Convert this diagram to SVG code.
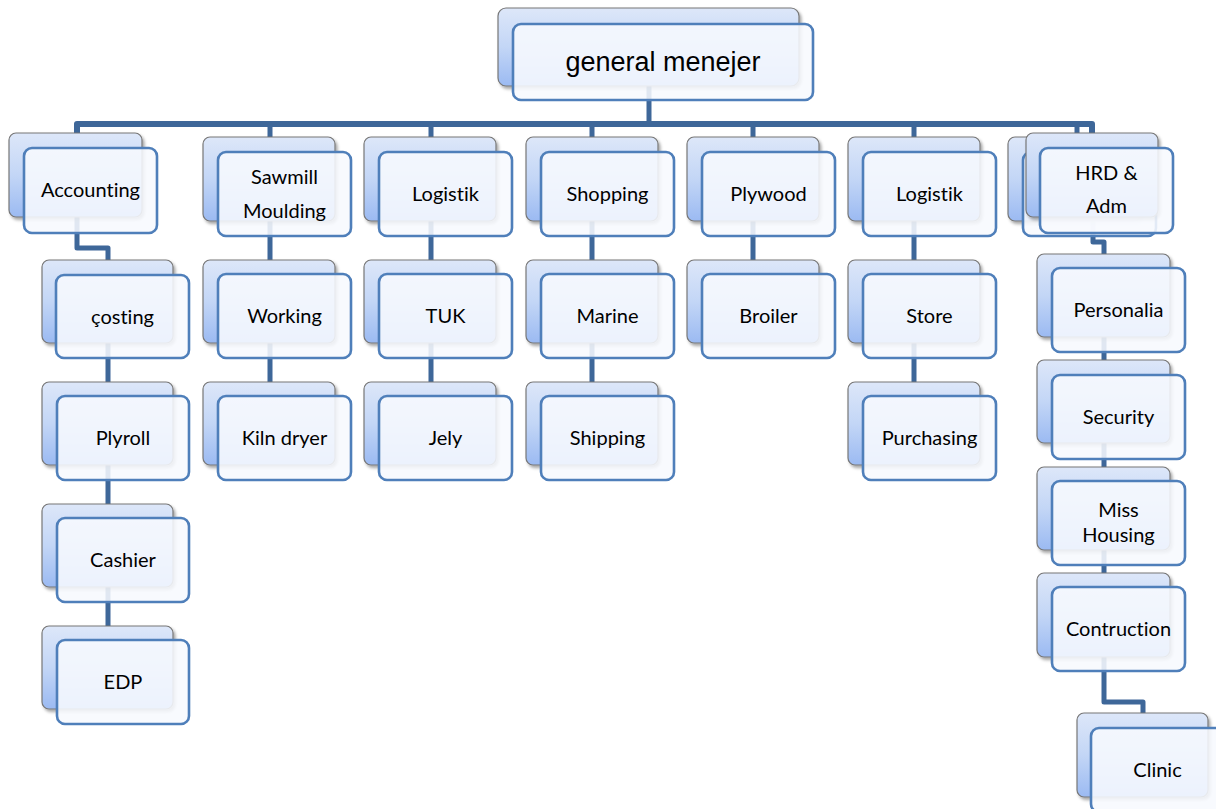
<svg xmlns="http://www.w3.org/2000/svg" width="1216" height="809" viewBox="0 0 1216 809">
<style>
.bk{fill:url(#bg);stroke:#777;stroke-width:1.2;filter:url(#sh)}
.fr{fill:#f7f9fe;fill-opacity:0.88;stroke:#4f7fba;stroke-width:2.6}
.t{font-family:Lato,"Open Sans",sans-serif;font-size:20px;fill:#000;text-anchor:middle;font-variant-ligatures:none}
.big{font-family:"Liberation Sans",Arial,sans-serif;font-size:27px;fill:#000;text-anchor:middle}
.cn{fill:none;stroke:#3e6799;stroke-width:5;stroke-linejoin:round}
</style>
<defs>
<linearGradient id="bg" x1="0" y1="0" x2="0" y2="1">
<stop offset="0" stop-color="#dde7f9"/>
<stop offset="0.5" stop-color="#c3d6f6"/>
<stop offset="1" stop-color="#9bbaf2"/>
</linearGradient>
<filter id="sh" x="-10%" y="-10%" width="125%" height="130%">
<feDropShadow dx="2" dy="2.5" stdDeviation="1.5" flood-color="#000" flood-opacity="0.35"/>
</filter>
</defs>
<rect width="1216" height="809" fill="#fff"/>
<g id="connectors">
<path class="cn" d="M649,86 V124"/>
<path class="cn" style="stroke-width:6" d="M77,136 V124 H1092 V136"/>
<path class="cn" d="M1077,124 V140"/>
<path class="cn" d="M270,124 V382"/>
<path class="cn" d="M431,124 V382"/>
<path class="cn" d="M592,124 V382"/>
<path class="cn" d="M753,124 V260"/>
<path class="cn" d="M914,124 V382"/>
<path class="cn" d="M77,217 V248 H108 V626"/>
<path class="cn" d="M1093,217 V242 H1104 V573"/>
<path class="cn" d="M1104,657 V702 H1143 V713"/>
</g>
<g id="n-gm"><rect class="bk" x="498" y="8" width="301" height="78" rx="8"/><rect class="fr" x="513" y="24" width="300" height="76" rx="8"/><text class="big" x="663" y="71">general menejer</text></g>
<g id="n-accounting"><rect class="bk" x="9" y="133" width="133" height="84" rx="7"/><rect class="fr" x="24" y="148" width="133" height="85" rx="8"/><text class="t" x="90.5" y="197">Accounting</text></g>
<g id="n-sawmill"><rect class="bk" x="203" y="137" width="132" height="84" rx="7"/><rect class="fr" x="218" y="152" width="133" height="84" rx="8"/><text class="t" x="284.5" y="184">Sawmill</text><text class="t" x="284.5" y="218">Moulding</text></g>
<g id="n-logistik1"><rect class="bk" x="364" y="137" width="132" height="84" rx="7"/><rect class="fr" x="379" y="152" width="133" height="84" rx="8"/><text class="t" x="445.5" y="201">Logistik</text></g>
<g id="n-shopping"><rect class="bk" x="526" y="137" width="132" height="84" rx="7"/><rect class="fr" x="541" y="152" width="133" height="84" rx="8"/><text class="t" x="607.5" y="201">Shopping</text></g>
<g id="n-plywood"><rect class="bk" x="687" y="137" width="132" height="84" rx="7"/><rect class="fr" x="702" y="152" width="133" height="84" rx="8"/><text class="t" x="768.5" y="201">Plywood</text></g>
<g id="n-logistik2"><rect class="bk" x="848" y="137" width="132" height="84" rx="7"/><rect class="fr" x="863" y="152" width="133" height="84" rx="8"/><text class="t" x="929.5" y="201">Logistik</text></g>
<g id="n-hidden"><rect class="bk" x="1008" y="137" width="133" height="84" rx="7"/><rect class="fr" x="1023" y="152" width="133" height="84" rx="8"/></g>
<g id="n-hrd"><rect class="bk" x="1026" y="133" width="132" height="84" rx="7"/><rect class="fr" x="1040" y="148" width="133" height="85" rx="8"/><text class="t" x="1106.5" y="180">HRD &amp;</text><text class="t" x="1106.5" y="213">Adm</text></g>
<g id="n-costing"><rect class="bk" x="42" y="260" width="131" height="83" rx="7"/><rect class="fr" x="56" y="275" width="133" height="83" rx="8"/><text class="t" x="122.5" y="324">çosting</text></g>
<g id="n-plyroll"><rect class="bk" x="42" y="382" width="131" height="83" rx="7"/><rect class="fr" x="57" y="396" width="132" height="84" rx="8"/><text class="t" x="123" y="445">Plyroll</text></g>
<g id="n-cashier"><rect class="bk" x="42" y="504" width="131" height="83" rx="7"/><rect class="fr" x="57" y="518" width="132" height="84" rx="8"/><text class="t" x="123" y="567">Cashier</text></g>
<g id="n-edp"><rect class="bk" x="42" y="626" width="131" height="83" rx="7"/><rect class="fr" x="57" y="640" width="132" height="84" rx="8"/><text class="t" x="123" y="689">EDP</text></g>
<g id="n-working"><rect class="bk" x="203" y="260" width="132" height="83" rx="7"/><rect class="fr" x="218" y="274" width="133" height="84" rx="8"/><text class="t" x="284.5" y="323">Working</text></g>
<g id="n-kiln"><rect class="bk" x="203" y="382" width="132" height="83" rx="7"/><rect class="fr" x="218" y="396" width="133" height="84" rx="8"/><text class="t" x="284.5" y="445">Kiln dryer</text></g>
<g id="n-tuk"><rect class="bk" x="364" y="260" width="132" height="83" rx="7"/><rect class="fr" x="379" y="274" width="133" height="84" rx="8"/><text class="t" x="445.5" y="323">TUK</text></g>
<g id="n-jely"><rect class="bk" x="364" y="382" width="132" height="83" rx="7"/><rect class="fr" x="379" y="396" width="133" height="84" rx="8"/><text class="t" x="445.5" y="445">Jely</text></g>
<g id="n-marine"><rect class="bk" x="526" y="260" width="132" height="83" rx="7"/><rect class="fr" x="541" y="274" width="133" height="84" rx="8"/><text class="t" x="607.5" y="323">Marine</text></g>
<g id="n-shipping"><rect class="bk" x="526" y="382" width="132" height="83" rx="7"/><rect class="fr" x="541" y="396" width="133" height="84" rx="8"/><text class="t" x="607.5" y="445">Shipping</text></g>
<g id="n-broiler"><rect class="bk" x="687" y="260" width="132" height="83" rx="7"/><rect class="fr" x="702" y="274" width="133" height="84" rx="8"/><text class="t" x="768.5" y="323">Broiler</text></g>
<g id="n-store"><rect class="bk" x="848" y="260" width="132" height="83" rx="7"/><rect class="fr" x="863" y="274" width="133" height="84" rx="8"/><text class="t" x="929.5" y="323">Store</text></g>
<g id="n-purchasing"><rect class="bk" x="848" y="382" width="132" height="83" rx="7"/><rect class="fr" x="863" y="396" width="133" height="84" rx="8"/><text class="t" x="929.5" y="445">Purchasing</text></g>
<g id="n-personalia"><rect class="bk" x="1037" y="254" width="133" height="83" rx="7"/><rect class="fr" x="1052" y="268" width="133" height="84" rx="8"/><text class="t" x="1118.5" y="317">Personalia</text></g>
<g id="n-security"><rect class="bk" x="1037" y="360" width="133" height="83" rx="7"/><rect class="fr" x="1052" y="375" width="133" height="84" rx="8"/><text class="t" x="1118.5" y="424">Security</text></g>
<g id="n-housing"><rect class="bk" x="1037" y="467" width="133" height="83" rx="7"/><rect class="fr" x="1052" y="481" width="133" height="84" rx="8"/><text class="t" x="1118.5" y="517">Miss</text><text class="t" x="1118.5" y="542">Housing</text></g>
<g id="n-contruction"><rect class="bk" x="1037" y="573" width="133" height="84" rx="7"/><rect class="fr" x="1052" y="587" width="133" height="84" rx="8"/><text class="t" x="1118.5" y="636">Contruction</text></g>
<g id="n-clinic"><rect class="bk" x="1077" y="713" width="131" height="84" rx="7"/><rect class="fr" x="1091" y="728" width="133" height="84" rx="8"/><text class="t" x="1157.5" y="777">Clinic</text></g>
</svg>
